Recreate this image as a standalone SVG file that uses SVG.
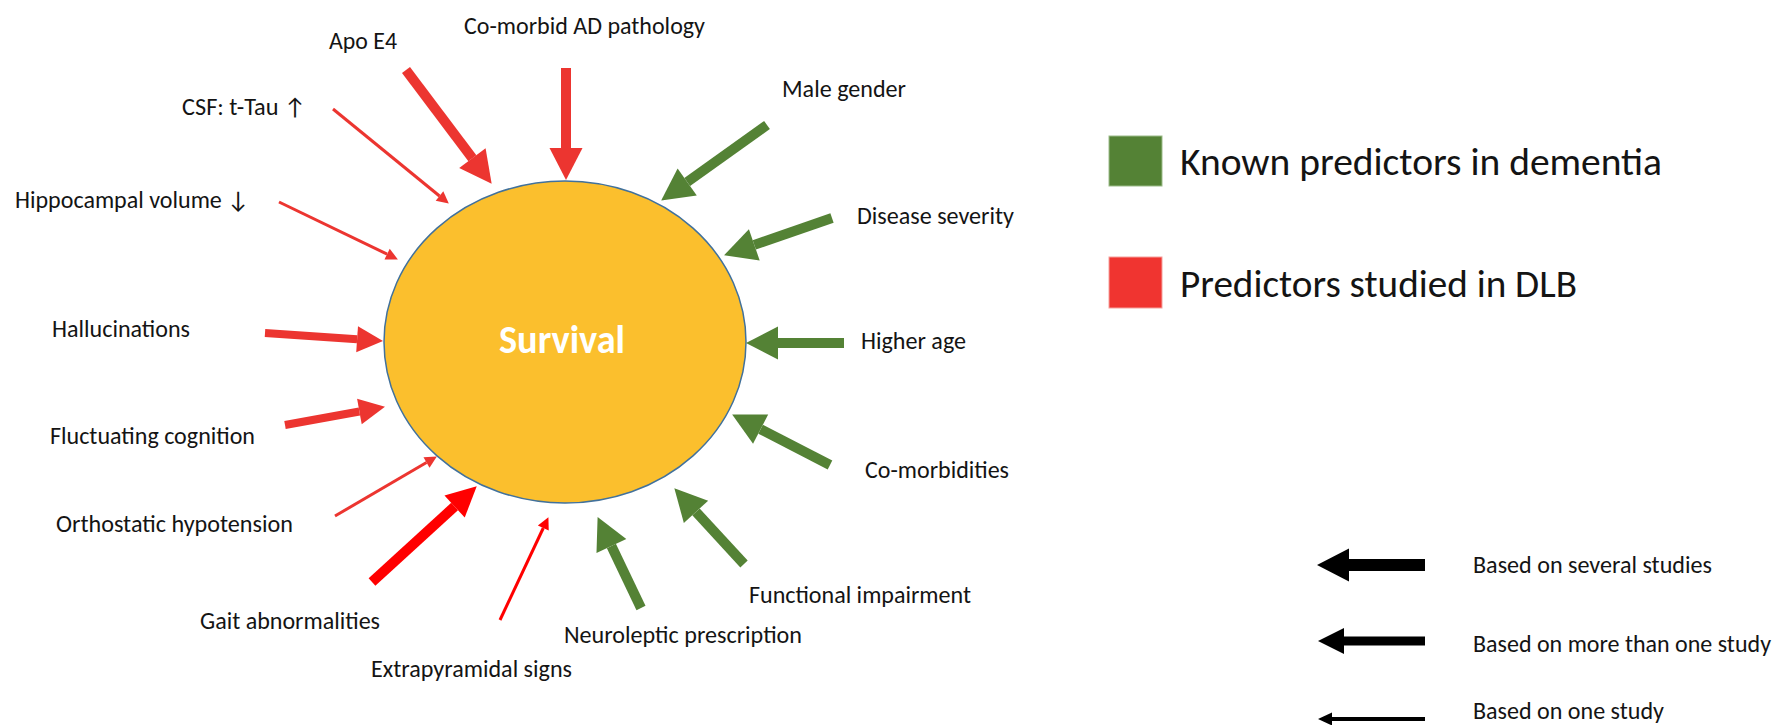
<svg xmlns="http://www.w3.org/2000/svg" width="1776" height="725" viewBox="0 0 1776 725">
<style>
text{font-family:Carlito,Lato,"Liberation Sans",sans-serif;fill:#141414}
.lbl{font-size:24px}
.big{font-size:39px}
.r{stroke:#EC3530;fill:none;stroke-linecap:butt}
.pr{stroke:#FF0000;fill:none;stroke-linecap:butt}
.g{stroke:#548235;fill:none;stroke-linecap:butt}
.k{stroke:#000;fill:none;stroke-linecap:butt}
.thick{stroke-width:10}
.med{stroke-width:8}
.thin{stroke-width:3}
</style>
<defs>
<marker id="hThickR" markerUnits="userSpaceOnUse" orient="auto" refX="0" refY="0" viewBox="0 -17 33 34" markerWidth="33" markerHeight="34" overflow="visible"><path d="M0,-16.5 L32,0 L0,16.5 Z" fill="#EC3530"/></marker>
<marker id="hMedR" markerUnits="userSpaceOnUse" orient="auto" refX="0" refY="0" viewBox="0 -14 27 28" markerWidth="27" markerHeight="28" overflow="visible"><path d="M0,-13 L26,0 L0,13 Z" fill="#EC3530"/></marker>
<marker id="hThinR" markerUnits="userSpaceOnUse" orient="auto" refX="0" refY="0" viewBox="0 -7 13 14" markerWidth="13" markerHeight="14" overflow="visible"><path d="M0,-6 L12,0 L0,6 Z" fill="#EC3530"/></marker>
<marker id="hThickPR" markerUnits="userSpaceOnUse" orient="auto" refX="0" refY="0" viewBox="0 -16 31 32" markerWidth="31" markerHeight="32" overflow="visible"><path d="M0,-15 L30,0 L0,15 Z" fill="#FF0000"/></marker>
<marker id="hThinPR" markerUnits="userSpaceOnUse" orient="auto" refX="0" refY="0" viewBox="0 -7 13 14" markerWidth="13" markerHeight="14" overflow="visible"><path d="M0,-6 L12,0 L0,6 Z" fill="#FF0000"/></marker>
<marker id="hThickG" markerUnits="userSpaceOnUse" orient="auto" refX="0" refY="0" viewBox="0 -17 33 34" markerWidth="33" markerHeight="34" overflow="visible"><path d="M0,-16.5 L32,0 L0,16.5 Z" fill="#548235"/></marker>
<marker id="hThickK" markerUnits="userSpaceOnUse" orient="auto" refX="0" refY="0" viewBox="0 -17 33 34" markerWidth="33" markerHeight="34" overflow="visible"><path d="M0,-16.5 L32,0 L0,16.5 Z" fill="#000"/></marker>
<marker id="hMedK" markerUnits="userSpaceOnUse" orient="auto" refX="0" refY="0" viewBox="0 -14 27 28" markerWidth="27" markerHeight="28" overflow="visible"><path d="M0,-13 L26,0 L0,13 Z" fill="#000"/></marker>
<marker id="hThinK" markerUnits="userSpaceOnUse" orient="auto" refX="0" refY="0" viewBox="0 -8 15 16" markerWidth="15" markerHeight="16" overflow="visible"><path d="M0,-6.5 L14,0 L0,6.5 Z" fill="#000"/></marker>
</defs>
<rect width="1776" height="725" fill="#fff"/>

<g id="survival">
<ellipse cx="565" cy="342" rx="181" ry="161" fill="#FBBF2D" stroke="#41719C" stroke-width="1.5"/>
<text x="562" y="353" text-anchor="middle" style="font-size:40px;font-weight:bold;fill:#fff" textLength="126" lengthAdjust="spacingAndGlyphs">Survival</text>
</g>

<g id="connectors">
<line class="r thick" x1="566" y1="68" x2="566" y2="148" marker-end="url(#hThickR)"/>
<line class="r thick" x1="406" y1="70" x2="472.4" y2="158.2" marker-end="url(#hThickR)"/>
<line class="r thin" x1="333" y1="109" x2="439.5" y2="196" marker-end="url(#hThinR)"/>
<line class="r thin" x1="279" y1="202" x2="387.1" y2="254.2" marker-end="url(#hThinR)"/>
<line class="r med" x1="265" y1="333" x2="357.1" y2="339.3" marker-end="url(#hMedR)"/>
<line class="r med" x1="285" y1="425" x2="359.4" y2="411.5" marker-end="url(#hMedR)"/>
<line class="r thin" x1="335" y1="516" x2="426.5" y2="462.5" marker-end="url(#hThinR)"/>
<line class="pr thick" x1="372" y1="582" x2="454.6" y2="506.5" marker-end="url(#hThickPR)"/>
<line class="pr thin" x1="500" y1="620" x2="543.3" y2="528" marker-end="url(#hThinPR)"/>
<line class="g thick" x1="641" y1="608" x2="611.4" y2="546" marker-end="url(#hThickG)"/>
<line class="g thick" x1="744" y1="564" x2="696" y2="511.8" marker-end="url(#hThickG)"/>
<line class="g thick" x1="830" y1="465" x2="760.6" y2="429.2" marker-end="url(#hThickG)"/>
<line class="g thick" x1="844" y1="343" x2="778" y2="343" marker-end="url(#hThickG)"/>
<line class="g thick" x1="832" y1="218" x2="754.3" y2="244.9" marker-end="url(#hThickG)"/>
<line class="g thick" x1="767" y1="125" x2="687.2" y2="182" marker-end="url(#hThickG)"/>
</g>

<g id="n-comorbid-ad"><text class="lbl" x="464" y="34" textLength="241" lengthAdjust="spacingAndGlyphs">Co-morbid AD pathology</text></g>
<g id="n-apoe4"><text class="lbl" x="329" y="49" textLength="68" lengthAdjust="spacingAndGlyphs">Apo E4</text></g>
<g id="n-csf"><text class="lbl" x="182" y="115" textLength="124" lengthAdjust="spacingAndGlyphs">CSF: t-Tau ↑</text></g>
<g id="n-hippocampal"><text class="lbl" x="15" y="208" textLength="234" lengthAdjust="spacingAndGlyphs">Hippocampal volume ↓</text></g>
<g id="n-hallucinations"><text class="lbl" x="52" y="337" textLength="138" lengthAdjust="spacingAndGlyphs">Hallucinations</text></g>
<g id="n-fluctuating"><text class="lbl" x="50" y="444" textLength="205" lengthAdjust="spacingAndGlyphs">Fluctuating cognition</text></g>
<g id="n-orthostatic"><text class="lbl" x="56" y="532" textLength="237" lengthAdjust="spacingAndGlyphs">Orthostatic hypotension</text></g>
<g id="n-gait"><text class="lbl" x="200" y="629" textLength="180" lengthAdjust="spacingAndGlyphs">Gait abnormalities</text></g>
<g id="n-extrapyramidal"><text class="lbl" x="371" y="677" textLength="201" lengthAdjust="spacingAndGlyphs">Extrapyramidal signs</text></g>
<g id="n-neuroleptic"><text class="lbl" x="564" y="643" textLength="238" lengthAdjust="spacingAndGlyphs">Neuroleptic prescription</text></g>
<g id="n-functional"><text class="lbl" x="749" y="603" textLength="222" lengthAdjust="spacingAndGlyphs">Functional impairment</text></g>
<g id="n-comorbidities"><text class="lbl" x="865" y="478" textLength="144" lengthAdjust="spacingAndGlyphs">Co-morbidities</text></g>
<g id="n-higher-age"><text class="lbl" x="861" y="349" textLength="105" lengthAdjust="spacingAndGlyphs">Higher age</text></g>
<g id="n-disease-severity"><text class="lbl" x="857" y="224" textLength="157" lengthAdjust="spacingAndGlyphs">Disease severity</text></g>
<g id="n-male-gender"><text class="lbl" x="782" y="97" textLength="124" lengthAdjust="spacingAndGlyphs">Male gender</text></g>

<g id="legend-colour">
<rect x="1109" y="136" width="53" height="50" fill="#548235" stroke="#9BBB89" stroke-width="1"/>
<text class="big" x="1180" y="175" textLength="482" lengthAdjust="spacingAndGlyphs">Known predictors in dementia</text>
<rect x="1109" y="257" width="53" height="51" fill="#F03430" stroke="#F5A09C" stroke-width="1"/>
<text class="big" x="1180" y="297" textLength="397" lengthAdjust="spacingAndGlyphs">Predictors studied in DLB</text>
</g>

<g id="legend-strength">
<line class="k" stroke-width="12" x1="1425" y1="565" x2="1349" y2="565" marker-end="url(#hThickK)"/>
<text class="lbl" x="1473" y="573" textLength="239" lengthAdjust="spacingAndGlyphs">Based on several studies</text>
<line class="k" stroke-width="9" x1="1425" y1="641" x2="1344" y2="641" marker-end="url(#hMedK)"/>
<text class="lbl" x="1473" y="652" textLength="298" lengthAdjust="spacingAndGlyphs">Based on more than one study</text>
<line class="k" stroke-width="4" x1="1425" y1="719" x2="1332" y2="719" marker-end="url(#hThinK)"/>
<text class="lbl" x="1473" y="719" textLength="191" lengthAdjust="spacingAndGlyphs">Based on one study</text>
</g>
</svg>
